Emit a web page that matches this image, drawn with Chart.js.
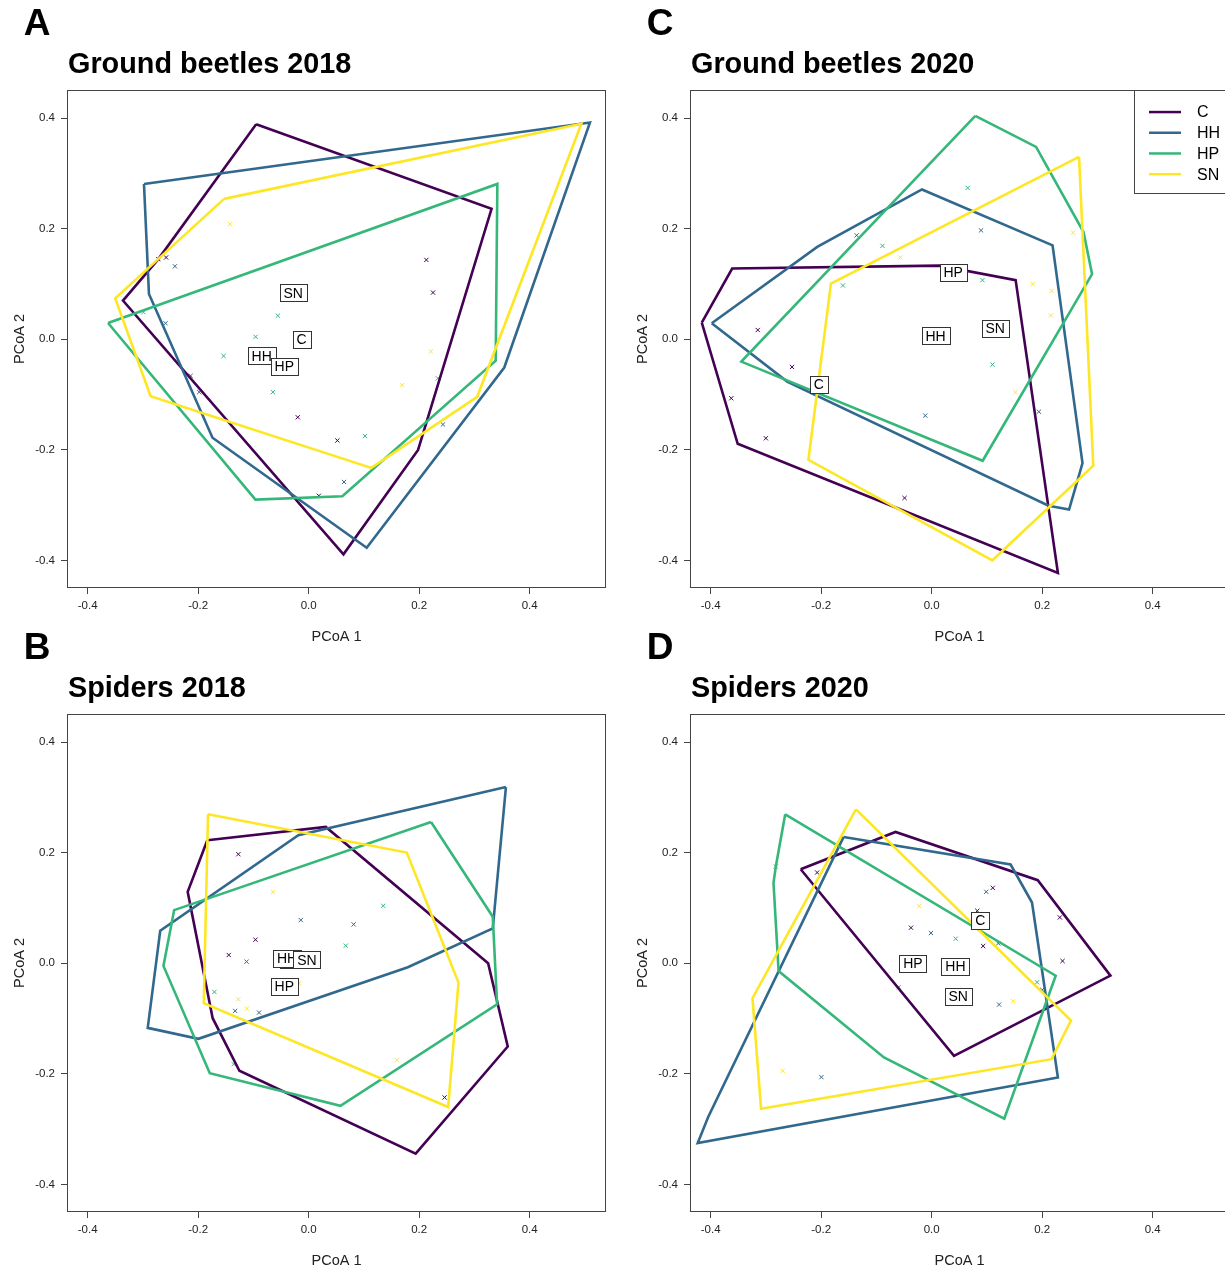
<!DOCTYPE html>
<html>
<head>
<meta charset="utf-8">
<script src="https://cdn.jsdelivr.net/npm/chart.js@4.4.0/dist/chart.umd.min.js"></script>
<style>
  html, body { margin: 0; padding: 0; background: #fff; }
  body { width: 1225px; height: 1269px; overflow: hidden; position: relative; }
  canvas { position: absolute; }
</style>
</head>
<body>
<canvas id="chartA" width="612" height="645" style="left:0px;top:0px"></canvas>
<canvas id="chartB" width="612" height="645" style="left:0px;top:624px"></canvas>
<canvas id="chartC" width="612" height="645" style="left:623px;top:0px"></canvas>
<canvas id="chartD" width="612" height="645" style="left:623px;top:624px"></canvas>
<script>
// groups (land use) and their colours (viridis)
var groups = ['C', 'HH', 'HP', 'SN'];
var groupColors = ['#440154', '#31688E', '#35B779', '#FDE725'];

// axes
var xTicks = [-0.4, -0.2, 0, 0.2, 0.4];
var yTicks = [-0.4, -0.2, 0, 0.2, 0.4];
var xRange = [-0.4355, 0.5363];
var yRange = [-0.448, 0.449];

// ---- Ground beetles 2018 (A) ----
var beetles18HullC = [[-0.095, 0.389], [0.331, 0.236], [0.198, -0.2], [0.063, -0.389], [-0.336, 0.07], [-0.272, 0.145]];
var beetles18HullHH = [[-0.298, 0.281], [0.509, 0.392], [0.354, -0.051], [0.105, -0.377], [-0.174, -0.178], [-0.289, 0.082]];
var beetles18HullHP = [[-0.363, 0.0295], [0.3415, 0.281], [0.3385, -0.0387], [0.061, -0.284], [-0.0963, -0.29]];
var beetles18HullSN = [[-0.153, 0.254], [0.4935, 0.39], [0.305, -0.104], [0.1135, -0.2326], [-0.286, -0.103], [-0.35, 0.074]];
var beetles18PtsC = [[-0.272, 0.145], [-0.258, 0.148], [0.213, 0.1436], [0.225, 0.0845], [-0.0197, -0.141], [0.052, -0.183], [0.0184, -0.283]];
var beetles18PtsHH = [[-0.242, 0.132], [-0.259, 0.029], [-0.2136, -0.066], [-0.198, -0.0955], [0.243, -0.154], [0.064, -0.258]];
var beetles18PtsHP = [[-0.299, 0.049], [-0.0557, 0.0428], [-0.096, 0.0045], [-0.154, -0.03], [-0.0647, -0.0955], [0.234, -0.0707], [0.102, -0.175]];
var beetles18PtsSN = [[-0.142, 0.2084], [0.159, 0.217], [0.221, -0.022], [0.169, -0.083]];
var beetles18LabelX = [-0.0127, -0.085, -0.044, -0.028];
var beetles18LabelY = [0.0, -0.03, -0.049, 0.084];

// ---- Spiders 2018 (B) ----
var spiders18HullC = [[-0.1834, 0.2226], [0.031, 0.2466], [0.3248, 0.0], [0.3603, -0.1505], [0.1937, -0.3443], [-0.1253, -0.1944], [-0.1737, -0.0993], [-0.2189, 0.1293]];
var spiders18HullHH = [[0.357, 0.3188], [0.3332, 0.0632], [0.1795, -0.0072], [-0.1995, -0.1366], [-0.2912, -0.1168], [-0.2686, 0.0589], [-0.0187, 0.2316]];
var spiders18HullHP = [[0.2215, 0.2556], [0.3332, 0.0842], [0.341, -0.074], [0.0575, -0.2577], [-0.1789, -0.1987], [-0.2628, -0.0048], [-0.2434, 0.0962]];
var spiders18HullSN = [[-0.1821, 0.2695], [0.1776, 0.2003], [0.2712, -0.0349], [0.2525, -0.26], [-0.1898, -0.0722]];
var spiders18PtsC = [[-0.1272, 0.1973], [-0.0962, 0.0427], [-0.1446, 0.015], [0.246, -0.2426]];
var spiders18PtsHH = [[-0.0142, 0.0782], [0.0814, 0.0704], [-0.1124, 0.003], [-0.133, -0.0861], [-0.0898, -0.0891]];
var spiders18PtsHP = [[0.135, 0.104], [0.0672, 0.0319], [-0.1705, -0.0518], [-0.1356, -0.1824]];
var spiders18PtsSN = [[-0.0646, 0.1293], [-0.0174, -0.036], [-0.1272, -0.065], [-0.1117, -0.0819], [0.1595, -0.1746]];
var spiders18LabelX = [-0.036, -0.039, -0.044, -0.003];
var spiders18LabelY = [0.006, 0.009, -0.042, 0.006];

// ---- Ground beetles 2020 (C) ----
var beetles20HullC = [[-0.416, 0.03], [-0.361, 0.128], [0.0136, 0.1333], [0.152, 0.107], [0.2285, -0.4226], [-0.351, -0.189]];
var beetles20HullHH = [[-0.398, 0.029], [-0.207, 0.167], [-0.0175, 0.271], [0.2188, 0.17], [0.273, -0.224], [0.2487, -0.308], [0.2116, -0.301], [-0.2615, -0.0765]];
var beetles20HullHP = [[0.079, 0.404], [0.189, 0.348], [0.2748, 0.194], [0.2903, 0.118], [0.0923, -0.2197], [-0.3444, -0.0403]];
var beetles20HullSN = [[0.2667, 0.33], [0.2925, -0.2288], [0.1099, -0.3997], [-0.223, -0.218], [-0.1823, 0.1009]];
var beetles20PtsC = [[-0.3147, 0.0168], [-0.2527, -0.05], [-0.3626, -0.1066], [-0.3, -0.179], [-0.049, -0.287]];
var beetles20PtsHH = [[0.0894, 0.197], [-0.1357, 0.188], [-0.0115, -0.138], [0.194, -0.131]];
var beetles20PtsHP = [[0.0652, 0.2739], [-0.089, 0.169], [-0.1606, 0.0973], [0.092, 0.107], [0.11, -0.0457]];
var beetles20PtsSN = [[-0.0567, 0.148], [0.256, 0.193], [0.1828, 0.0997], [0.217, 0.0877], [0.2157, 0.0432], [0.1517, -0.0957]];
var beetles20LabelX = [-0.204, 0.007, 0.039, 0.115];
var beetles20LabelY = [-0.081, 0.006, 0.121, 0.02];

// ---- Spiders 2020 (D) ----
var spiders20HullC = [[-0.237, 0.1702], [-0.0654, 0.2376], [0.192, 0.1504], [0.3235, -0.0223], [0.0404, -0.1674]];
var spiders20HullHH = [[-0.1593, 0.2286], [0.1429, 0.1787], [0.1816, 0.11], [0.2285, -0.2065], [-0.4233, -0.325], [-0.4044, -0.278]];
var spiders20HullHP = [[-0.265, 0.2695], [0.2245, -0.0225], [0.1314, -0.2811], [-0.0863, -0.1704], [-0.277, -0.014], [-0.2862, 0.1456], [-0.282, 0.175]];
var spiders20HullSN = [[-0.137, 0.2785], [0.2521, -0.1035], [0.217, -0.1734], [-0.3087, -0.263], [-0.3242, -0.0632]];
var spiders20PtsC = [[-0.2072, 0.1642], [0.1106, 0.1365], [0.0826, 0.095], [-0.0374, 0.0644], [0.0932, 0.0313], [0.232, 0.083], [0.2369, 0.0042]];
var spiders20PtsHH = [[0.0988, 0.1293], [-0.0013, 0.0547], [0.1205, 0.036], [0.2, -0.048], [0.122, -0.0746], [-0.1995, -0.2059]];
var spiders20PtsHP = [[-0.282, 0.175], [0.0435, 0.0445], [0.1908, -0.0343], [-0.0598, -0.0433]];
var spiders20PtsSN = [[-0.0224, 0.1035], [0.1476, -0.0686], [-0.2696, -0.1944]];
var spiders20LabelX = [0.088, 0.043, -0.034, 0.048];
var spiders20LabelY = [0.078, -0.006, 0.0, -0.06];

var FONT = "'Liberation Sans', Arial, Helvetica, sans-serif";
Chart.defaults.font.family = FONT;
Chart.defaults.color = '#222';

function toXY(arr) {
  return arr.map(function (p) { return { x: p[0], y: p[1] }; });
}

// frame, panel letter, group labels and legend
var decorPlugin = {
  id: 'decor',
  afterDraw: function (chart, args, opts) {
    var ctx = chart.ctx;
    var a = chart.chartArea;
    var xs = chart.scales.x, ys = chart.scales.y;
    ctx.save();
    // box
    ctx.strokeStyle = '#444';
    ctx.lineWidth = 1;
    ctx.strokeRect(Math.round(a.left) - 0.5, Math.round(a.top) - 0.5, Math.round(a.right - a.left) + 1, Math.round(a.bottom - a.top) + 1);

    // group labels in boxes
    ctx.font = '14px ' + FONT;
    ctx.textAlign = 'center';
    ctx.textBaseline = 'middle';
    groups.forEach(function (g, i) {
      var px = xs.getPixelForValue(opts.labelX[i]);
      var py = ys.getPixelForValue(opts.labelY[i]);
      var w = Math.round(ctx.measureText(g).width + 8), h = 17;
      var bx = Math.round(px - w / 2) + 0.5, by = Math.round(py - h / 2) + 0.5;
      ctx.fillStyle = '#fff';
      ctx.fillRect(bx, by, w, h);
      ctx.strokeStyle = '#333';
      ctx.strokeRect(bx, by, w, h);
      ctx.fillStyle = '#000';
      ctx.fillText(g, px, py + 1);
    });

    // legend (top right, inside the plot)
    if (opts.legend) {
      var lx = 511, ly = Math.round(a.top) - 0.5;
      ctx.strokeStyle = '#444';
      ctx.strokeRect(lx + 0.5, ly, a.right - lx + 2, 103);
      ctx.font = '16px ' + FONT;
      ctx.textAlign = 'left';
      groups.forEach(function (g, i) {
        var yy = a.top + 21 + i * 20.7;
        ctx.strokeStyle = groupColors[i];
        ctx.lineWidth = 2.5;
        ctx.beginPath();
        ctx.moveTo(526, yy);
        ctx.lineTo(558, yy);
        ctx.stroke();
        ctx.fillStyle = '#000';
        ctx.fillText(g, 574, yy + 1);
      });
    }

    // panel letter
    ctx.font = 'bold 37px ' + FONT;
    ctx.fillStyle = '#000';
    ctx.textAlign = 'center';
    ctx.textBaseline = 'middle';
    ctx.fillText(opts.letter, 37, 25);
    ctx.restore();
  }
};

function makePanel(id, letter, title, hulls, points, labelX, labelY, legend) {
  var datasets = [];
  hulls.forEach(function (hull, i) {
    datasets.push({
      data: toXY(hull.concat([hull[0]])),
      showLine: true,
      borderColor: groupColors[i],
      borderWidth: 2.6,
      borderJoinStyle: 'miter',
      pointRadius: 0,
      fill: false,
      tension: 0,
      order: 4 - i
    });
  });
  points.forEach(function (pts, i) {
    datasets.push({
      data: toXY(pts),
      showLine: false,
      pointStyle: 'crossRot',
      pointRadius: 3,
      pointBorderWidth: 1,
      borderColor: groupColors[i],
      pointBorderColor: groupColors[i],
      order: 10
    });
  });

  return new Chart(document.getElementById(id).getContext('2d'), {
    type: 'scatter',
    data: { datasets: datasets },
    plugins: [decorPlugin],
    options: {
      responsive: false,
      animation: false,
      events: [],
      layout: { padding: { left: 0, right: 7, top: 0, bottom: 0 } },
      plugins: {
        legend: { display: false },
        tooltip: { enabled: false },
        title: {
          display: true,
          text: title,
          align: 'start',
          fullSize: false,
          color: '#000',
          font: { size: 28.8, weight: 'bold' },
          padding: { top: 48.2, bottom: 8.3 }
        },
        decor: { letter: letter, labelX: labelX, labelY: labelY, legend: legend }
      },
      scales: {
        x: {
          type: 'linear',
          min: xRange[0],
          max: xRange[1],
          afterBuildTicks: function (scale) {
            scale.ticks = xTicks.map(function (v) { return { value: v }; });
          },
          afterFit: function (scale) { scale.height = 58; },
          grid: { drawOnChartArea: false, drawTicks: true, tickLength: 7, color: '#444' },
          border: { display: false },
          ticks: {
            padding: 5,
            font: { size: 11.5 },
            color: '#222',
            maxRotation: 0,
            callback: function (v) { return v.toFixed(1); }
          },
          title: { display: true, text: 'PCoA 1', font: { size: 14.5 }, color: '#222', padding: { top: 0, bottom: -0.8 } }
        },
        y: {
          type: 'linear',
          min: yRange[0],
          max: yRange[1],
          afterBuildTicks: function (scale) {
            scale.ticks = yTicks.map(function (v) { return { value: v }; });
          },
          afterFit: function (scale) { scale.width = 68; },
          grid: { drawOnChartArea: false, drawTicks: true, tickLength: 7, color: '#444' },
          border: { display: false },
          ticks: {
            padding: 6,
            font: { size: 11.5 },
            color: '#222',
            callback: function (v) { return v.toFixed(1); }
          },
          title: { display: true, text: 'PCoA 2', font: { size: 14.5 }, color: '#222', padding: { top: 11.3, bottom: 0 } }
        }
      }
    }
  });
}

makePanel('chartA', 'A', 'Ground beetles 2018',
  [beetles18HullC, beetles18HullHH, beetles18HullHP, beetles18HullSN],
  [beetles18PtsC, beetles18PtsHH, beetles18PtsHP, beetles18PtsSN],
  beetles18LabelX, beetles18LabelY, false);

makePanel('chartB', 'B', 'Spiders 2018',
  [spiders18HullC, spiders18HullHH, spiders18HullHP, spiders18HullSN],
  [spiders18PtsC, spiders18PtsHH, spiders18PtsHP, spiders18PtsSN],
  spiders18LabelX, spiders18LabelY, false);

makePanel('chartC', 'C', 'Ground beetles 2020',
  [beetles20HullC, beetles20HullHH, beetles20HullHP, beetles20HullSN],
  [beetles20PtsC, beetles20PtsHH, beetles20PtsHP, beetles20PtsSN],
  beetles20LabelX, beetles20LabelY, true);

makePanel('chartD', 'D', 'Spiders 2020',
  [spiders20HullC, spiders20HullHH, spiders20HullHP, spiders20HullSN],
  [spiders20PtsC, spiders20PtsHH, spiders20PtsHP, spiders20PtsSN],
  spiders20LabelX, spiders20LabelY, false);
</script>
</body>
</html>
